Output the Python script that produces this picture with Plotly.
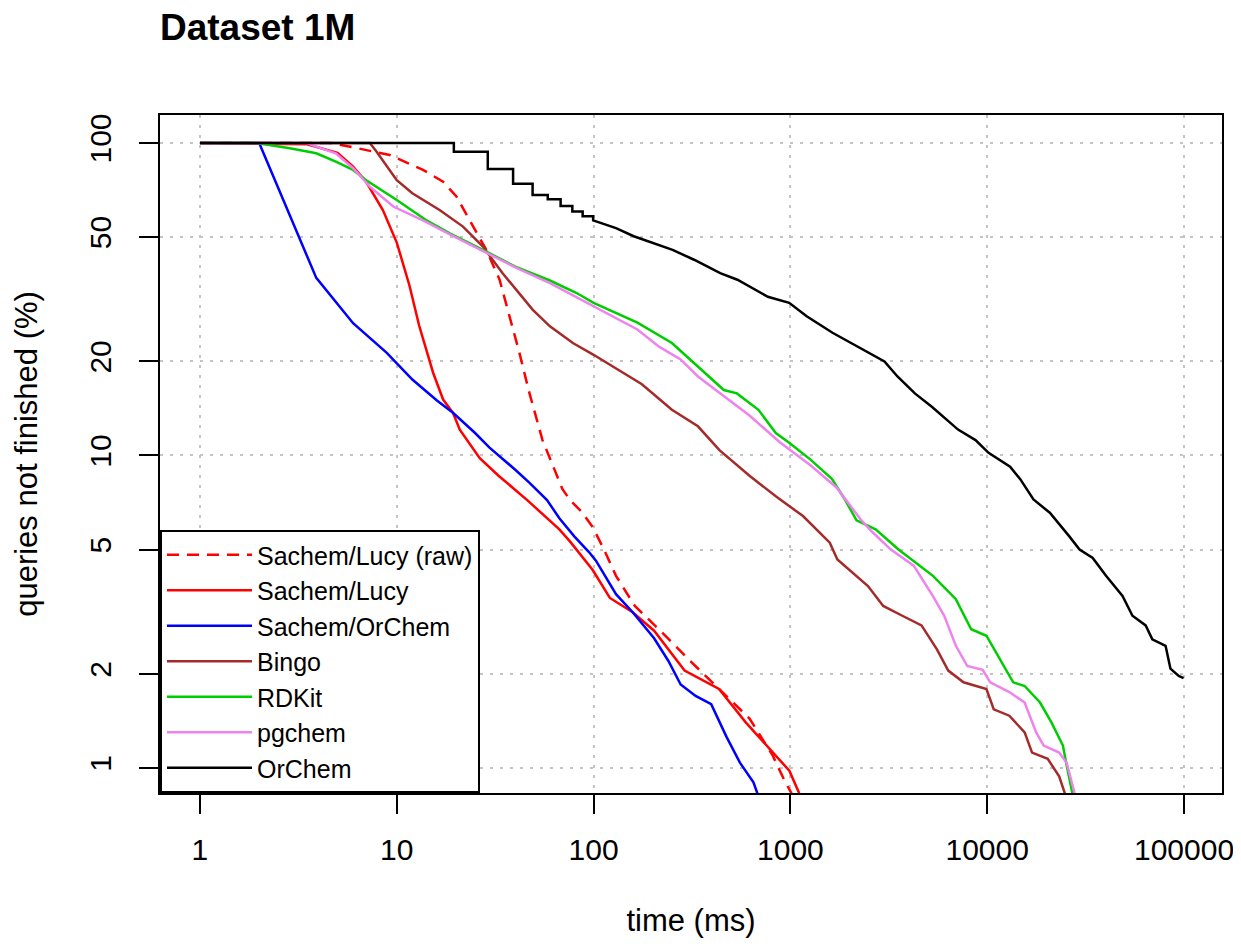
import plotly.graph_objects as go

# time (ms) and queries not finished (%) per engine
lucy_raw_t = [1, 4.6, 5.8, 9.2, 13.6, 17.2, 20.1, 24.6, 28.5, 33.3, 37.5, 42, 47, 55, 69.5, 76, 87, 99,
              113, 130, 162, 222, 303, 362, 453, 620, 811, 927, 1013, 1100]
lucy_raw_p = [100, 100, 97.3, 91.5, 82, 75.2, 67.4, 54, 45.5, 36.5, 27.9, 21.3, 16, 11.2, 7.8, 7.2, 6.6, 5.9,
              5.0, 4.12, 3.3, 2.72, 2.23, 2.0, 1.75, 1.44, 1.1, 0.92, 0.83, 0.75]

lucy_t = [1, 3.5, 5, 6, 7, 8.5, 10, 11.6, 13, 15.3, 17.2, 19.3, 20.9, 26.4, 33, 46, 67, 76, 99, 121,
          158, 203, 290, 434, 593, 811, 988, 1109, 1200]
lucy_p = [100, 99, 93, 84, 75, 61, 48, 35, 26, 18.4, 15.1, 13.7, 12.1, 9.8, 8.6, 7.2, 5.8, 5.3, 4.3, 3.5,
          3.15, 2.75, 2.05, 1.79, 1.4, 1.12, 0.98, 0.83, 0.75]

orchem_s_t = [1, 2, 3.9, 6.0, 8.9, 12, 16, 19.3, 25, 29.6, 40, 47, 58, 67, 80, 95, 103, 130, 158, 203,
              240, 277, 330, 396, 473, 554, 649, 678, 720]
orchem_s_p = [100, 100, 37, 26.5, 21.3, 17.5, 15, 13.7, 11.8, 10.6, 9.0, 8.2, 7.2, 6.3, 5.5, 4.9, 4.6, 3.6,
              3.15, 2.6, 2.2, 1.85, 1.7, 1.6, 1.26, 1.04, 0.9, 0.83, 0.75]

bingo_t = [1, 7.3, 7.9, 10, 12, 16.5, 21.7, 27.4, 34.5, 49, 60, 78.5, 100, 176, 250, 339, 436, 622, 843,
           1159, 1585, 1733, 2478, 2963, 3705, 4637, 5545, 6340, 7580, 9910, 10800, 12950, 15500, 16900,
           20300, 23200, 24800, 26000]
bingo_p = [100, 100, 93.8, 76, 69, 61, 54, 46.6, 38.3, 29.3, 25.9, 22.9, 21, 16.9, 14, 12.4, 10.4, 8.6, 7.4,
           6.4, 5.26, 4.65, 3.82, 3.3, 3.07, 2.86, 2.4, 2.05, 1.88, 1.79, 1.54, 1.47, 1.3, 1.12,
           1.07, 0.94, 0.83, 0.75]

rdkit_t = [1, 1.94, 2.86, 3.9, 4.9, 6, 7, 10, 14, 18.6, 27.4, 40, 60, 82, 100, 167, 250, 339, 459, 535,
           688, 843, 982, 1265, 1629, 1900, 2168, 2710, 3541, 5300, 6930, 8290, 9910, 11330, 13550, 15500,
           18550, 21200, 24250, 25330, 27100, 28000]
rdkit_p = [100, 100, 96.2, 92.7, 87.1, 82, 76, 65.7, 56.8, 51.4, 45.5, 40.2, 36.3, 33.1, 30.8, 26.6, 22.9,
           19.3, 16.2, 15.8, 14, 11.8, 11, 9.7, 8.4, 7.2, 6.2, 5.8, 5.0, 4.12, 3.47, 2.78, 2.65, 2.29, 1.88,
           1.83, 1.62, 1.40, 1.18, 1.02, 0.83, 0.75]

pgchem_t = [1, 3.5, 3.9, 4.9, 6, 7.3, 9.6, 14, 18.6, 27.4, 40, 60, 100, 167, 215, 277, 339, 459, 622, 887,
            1265, 1714, 1907, 2276, 2600, 3240, 4233, 5300, 6050, 6930, 7920, 9480, 10360, 12950, 15500,
            17740, 19370, 23200, 25330, 27700, 29000]
pgchem_p = [100, 100, 97.3, 92.7, 83, 72.5, 62.6, 56, 51, 45, 40, 35.6, 30.0, 25.3, 22.3, 20.3, 17.9, 15.5,
            13.4, 11.0, 9.3, 7.9, 7.23, 6.24, 5.7, 5.0, 4.44, 3.55, 3.07, 2.46, 2.12, 2.06, 1.88, 1.75,
            1.62, 1.30, 1.18, 1.12, 1.04, 0.83, 0.75]

orchem_t = [1, 19.5, 19.5, 29, 29, 39, 39, 49, 49, 58.5, 58.5, 68, 68, 78, 78, 88, 88, 99.5, 99.5, 130,
            160, 252, 324, 440, 538, 768, 986, 1210, 1637, 2110, 3006, 3500, 4290, 5250, 7110, 8720,
            10160, 13070, 14720, 17180, 20800, 26200, 29460, 34380, 40150, 48700, 54700, 63850, 69000,
            80600, 85300, 94000, 99500]
orchem_p = [100, 100, 93.8, 93.8, 82.6, 82.6, 74, 74, 68.2, 68.2, 66, 66, 62.8, 62.8, 60.4, 60.4, 58.3,
            58.3, 56.5, 53.4, 50.3, 45.5, 42.3, 38.3, 36.5, 32.2, 30.8, 27.9, 24.7, 22.6, 20, 17.9, 15.8,
            14.3, 12.1, 11.2, 10.2, 9.2, 8.4, 7.23, 6.56, 5.5, 5.0, 4.7, 4.12, 3.55, 3.07, 2.86, 2.58,
            2.46, 2.08, 1.97, 1.94]

x_ticks = [1, 10, 100, 1000, 10000, 100000]
x_labels = ["1", "10", "100", "1000", "10000", "100000"]
y_ticks = [1, 2, 5, 10, 20, 50, 100]
y_labels = ["1", "2", "5", "10", "20", "50", "100"]

series = [
    ("Sachem/Lucy (raw)", lucy_raw_t, lucy_raw_p, "#FF0000", "12px,8px"),
    ("Sachem/Lucy", lucy_t, lucy_p, "#FF0000", "solid"),
    ("Sachem/OrChem", orchem_s_t, orchem_s_p, "#0000FF", "solid"),
    ("Bingo", bingo_t, bingo_p, "#A52A2A", "solid"),
    ("RDKit", rdkit_t, rdkit_p, "#00CD00", "solid"),
    ("pgchem", pgchem_t, pgchem_p, "#EE82EE", "solid"),
    ("OrChem", orchem_t, orchem_p, "#000000", "solid"),
]

FONT = "Liberation Sans, Arial, Helvetica, sans-serif"

# the page body keeps its default 8px margin, so the figure is 8px smaller
W, H = 1233, 938

fig = go.Figure()
for i, (name, t, p, color, dash) in enumerate(series):
    fig.add_trace(go.Scatter(
        x=t, y=p, name=name, mode="lines", legendgroup=str(i),
        line=dict(color=color, width=2.5, dash=dash),
    ))

axis_common = dict(
    type="log", automargin=False,
    showline=True, mirror=True, linecolor="black", linewidth=2,
    ticks="outside", ticklen=19, tickwidth=2, tickcolor="black",
    showgrid=True, gridcolor="#c4c4c4", gridwidth=2, griddash="3px,7px",
    zeroline=False,
    tickfont=dict(family=FONT, size=30, color="black"),
    title_font=dict(family=FONT, size=31, color="black"),
)

fig.update_layout(
    width=W, height=H, autosize=False,
    margin=dict(l=152, r=19, t=107, b=153),
    paper_bgcolor="white", plot_bgcolor="white",
    title=dict(text="<b>Dataset 1M</b>", x=0, xref="paper", xanchor="left",
               y=1 - 19 / H, yanchor="middle",
               font=dict(family=FONT, size=37, color="black")),
    xaxis=dict(axis_common, range=[-0.203, 5.193], tickvals=x_ticks, ticktext=x_labels,
               ticklabelstandoff=10, title=dict(text="time (ms)", standoff=44)),
    yaxis=dict(axis_common, range=[-0.080, 2.0895], tickvals=y_ticks, ticktext=y_labels,
               tickangle=-90, ticklabelstandoff=16,
               title=dict(text="queries not finished (%)", standoff=37)),
    legend=dict(x=0, y=0, xanchor="left", yanchor="bottom",
                bgcolor="white", bordercolor="black", borderwidth=2,
                font=dict(family=FONT, size=25, color="black"),
                itemwidth=85, tracegroupgap=0, traceorder="normal"),
    showlegend=True,
)

fig.write_html("out.html")
